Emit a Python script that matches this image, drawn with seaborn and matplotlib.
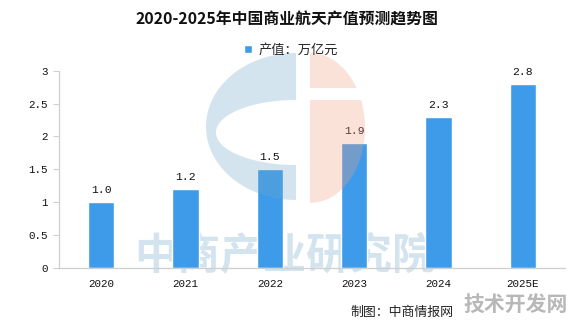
import numpy as np
import pandas as pd
import matplotlib
matplotlib.use("Agg")
import matplotlib.pyplot as plt
import seaborn as sns
from matplotlib.patches import Polygon

# Data
years = ["2020", "2021", "2022", "2023", "2024", "2025E"]
output_value = [1.0, 1.2, 1.5, 1.9, 2.3, 2.8]
y_ticks = [0, 0.5, 1, 1.5, 2, 2.5, 3]
y_tick_labels = ["0", "0.5", "1", "1.5", "2", "2.5", "3"]
series_name = "产值：万亿元"
title = "2020-2025年中国商业航天产值预测趋势图"
source = "制图：中商情报网"
watermark = "中商产业研究院"
site_mark = "技术开发网"

sns.set_theme(style="white")
plt.rcParams["font.family"] = ["Noto Sans CJK SC", "DejaVu Sans"]

W, H = 572, 323
BAR = "#3d9be9"
AXIS = "#cfcfcf"
MONO = ["Liberation Mono", "DejaVu Sans Mono"]

fig = plt.figure(figsize=(W / 100, H / 100), dpi=100)
fig.patch.set_facecolor("white")
ax = fig.add_axes([59 / W, 1 - 268 / H, (565 - 59) / W, (268 - 70.7) / H])
ax.set_facecolor("none")

df = pd.DataFrame({"year": years, "value": output_value, "series": series_name})
sns.barplot(data=df, x="year", y="value", hue="series", palette=[BAR],
            width=0.31, saturation=1, ax=ax)

# value labels above bars
ax.bar_label(ax.containers[0], labels=[f"{v:.1f}" for v in output_value],
             padding=5, fontsize=8.2, family=MONO, color="#111111")

# faint agency watermark behind the bars
ax.text(285 / W, 1 - 268 / H, watermark, transform=fig.transFigure,
        fontsize=31, color="#d3e4ef", ha="center", va="baseline",
        weight="bold", zorder=0.5, clip_on=False)

# axes styling
ax.set_xlim(-0.5, 5.5)
ax.set_ylim(0, 3)
ax.set_yticks(y_ticks)
ax.set_yticklabels(y_tick_labels, family=MONO, fontsize=7.8, color="#111111")
ax.set_xticks(range(len(years)))
ax.set_xticklabels(years, family=MONO, fontsize=7.8, color="#111111")
ax.set_xticks(np.arange(-0.5, len(years), 1.0), minor=True)
ax.tick_params(axis="x", which="major", length=0, pad=8)
ax.tick_params(axis="x", which="minor", length=4, color=AXIS, width=0.8, direction="out")
ax.tick_params(axis="y", length=4, color=AXIS, width=0.8, direction="out", pad=4, left=True)
ax.set_xlabel("")
ax.set_ylabel("")
for side in ("top", "right"):
    ax.spines[side].set_visible(False)
for side in ("left", "bottom"):
    ax.spines[side].set_color(AXIS)
    ax.spines[side].set_linewidth(0.9)

# legend at top centre
handles, labels = ax.get_legend_handles_labels()
ax.legend_.remove()
fig.legend(handles, labels, loc="center", bbox_to_anchor=(291 / W, 1 - 50 / H),
           frameon=False, fontsize=9.5, handlelength=0.6, handleheight=0.6,
           handletextpad=0.5, borderaxespad=0)

# title and footer
fig.text(287 / W, 1 - 20 / H, title, ha="center", va="center", fontsize=11.4,
         weight="bold", color="#111111")
fig.text(350 / W, 1 - 312 / H, source, ha="left", va="center", fontsize=9.3,
         color="#222222")
fig.text(516 / W, 1 - 304 / H, site_mark, ha="center", va="center", fontsize=15,
         weight="bold", color="#b8b8b8")

# translucent logo overlay
ov = fig.add_axes([0, 0, 1, 1], zorder=5)
ov.set_xlim(0, W)
ov.set_ylim(H, 0)
ov.axis("off")
ov.patch.set_alpha(0)

t = np.radians(np.linspace(90, 270, 120))
cx, cy, rx, ry = 296, 126.5, 90, 73.5
icy, irx, iry = 132.5, 80, 32.5
outer = np.column_stack([cx + rx * np.cos(t), cy - ry * np.sin(t)])
inner = np.column_stack([cx + irx * np.cos(t[::-1]), icy - iry * np.sin(t[::-1])])
ov.add_patch(Polygon(np.vstack([outer, inner]), closed=True,
                     facecolor="#70a8c9", edgecolor="none", alpha=0.3))

scx, scy, srx, sry = 310, 128, 55, 75


def right_piece(y0, y1):
    ys = np.linspace(y0, y1, 80)
    xs = scx + srx * np.sqrt(np.clip(1 - ((ys - scy) / sry) ** 2, 0, 1))
    pts = np.column_stack([xs, ys])
    return np.vstack([[scx, y0], pts, [scx, y1]])


for y0, y1 in ((scy - sry, 88), (100, scy + sry)):
    ov.add_patch(Polygon(right_piece(y0, y1), closed=True,
                         facecolor="#f1a184", edgecolor="none", alpha=0.3))

fig.savefig("out.png", dpi=100, facecolor="white")
